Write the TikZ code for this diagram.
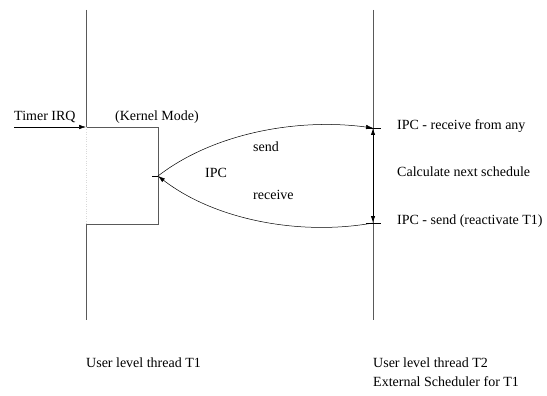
\documentclass[tikz,border=0pt]{standalone}
\usepackage{fontspec}
\setmainfont{Liberation Serif}
\usepackage{tikz}
\usepackage{xcolor}
\usetikzlibrary{arrows.meta}
\tikzset{
    thread-line/.style = {draw=black!65, line width=0.7pt},
    plain-line/.style = {draw=black, line width=0.5pt},
    ipc-arrow/.style = {draw=black, line width=0.5pt, -{Latex[length=7pt, width=4.5pt]}},
    sched-arrow/.style = {draw=black, line width=0.9pt, {Latex[length=7pt, width=4.5pt]}-{Latex[length=7pt, width=4.5pt]}},
    lbl/.style = {font=\fontsize{14}{16}\selectfont, inner sep=0pt, anchor=base west},
}
\begin{document}
\begin{tikzpicture}[x=1pt, y=-1pt]
\useasboundingbox (0,0) rectangle (547,396);
% thread T1 with kernel excursion
\coordinate (t1top) at (86,10);
\coordinate (t1in) at (86,127);
\coordinate (kne) at (158,127);
\coordinate (kse) at (158,224);
\coordinate (t1out) at (86,224);
\coordinate (t1bot) at (86,320);
\coordinate (kipc) at (158,176);
\coordinate (kipcl) at (152,176);
\draw[thread-line] (t1top) -- (t1in) -- (kne) -- (kse) -- (t1out) -- (t1bot);
\draw[black!15, dotted] (t1in) -- (t1out);
\draw[plain-line] (kipcl) -- (kipc);
% thread T2
\coordinate (t2top) at (373,10);
\coordinate (t2bot) at (373,320);
\coordinate (rcv) at (373,128);
\coordinate (snd) at (373,223);
\draw[thread-line] (t2top) -- (t2bot);
\draw[plain-line] ([xshift=-7pt]rcv) -- ([xshift=8pt]rcv);
\draw[plain-line] ([xshift=-7pt]snd) -- ([xshift=8pt]snd);
% timer interrupt
\node[lbl] (timer) at (14,121) {Timer IRQ};
\coordinate (irq) at (14,127);
\draw[ipc-arrow] (irq) -- (t1in);
\node[lbl] (kmode) at (115,121) {(Kernel Mode)};
% IPC curves
\draw[ipc-arrow] (kipc) .. controls (215,132) and (300,118) .. (rcv);
\draw[ipc-arrow] (snd) .. controls (300,236) and (215,220) .. (kipc);
\draw[sched-arrow] (rcv) -- (snd);
\node[lbl] (send) at (253,152) {send};
\node[lbl] (ipc) at (205,177) {IPC};
\node[lbl] (receive) at (253,200) {receive};
% scheduler steps
\node[lbl] (step1) at (397,129) {IPC - receive from any};
\node[lbl] (step2) at (397,176) {Calculate next schedule};
\node[lbl] (step3) at (397,224) {IPC - send (reactivate T1)};
% thread names
\node[lbl] (name1) at (86,367) {User level thread T1};
\node[lbl] (name2) at (373,367) {User level thread T2};
\node[lbl] (name3) at (373,386) {External Scheduler for T1};
\end{tikzpicture}
\end{document}
